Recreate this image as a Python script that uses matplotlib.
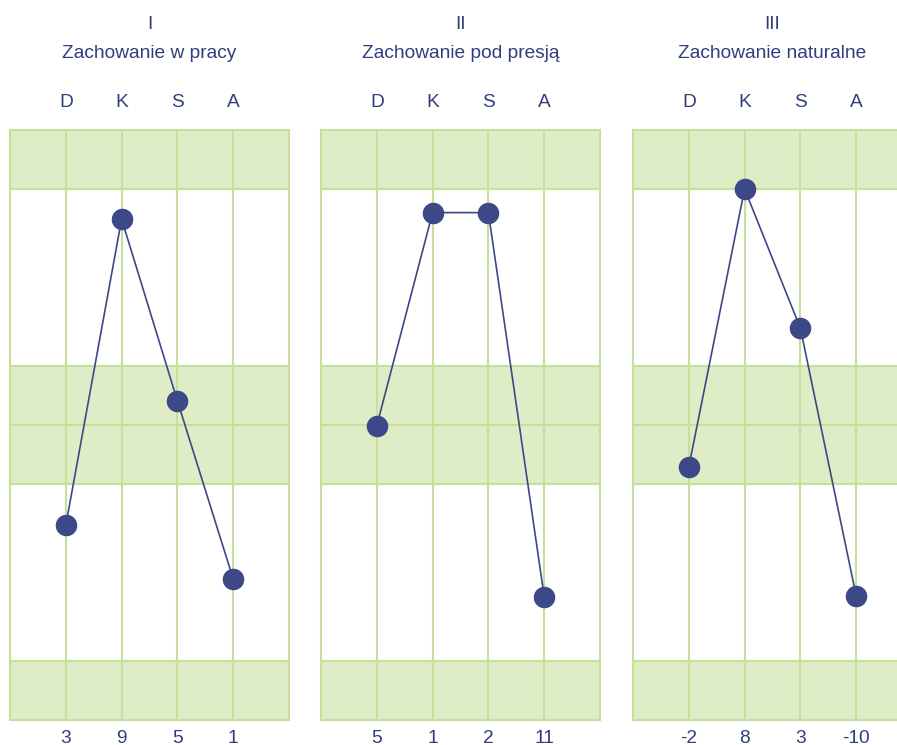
import matplotlib
matplotlib.use('Agg')
import matplotlib.pyplot as plt

plt.rcParams['font.family'] = ['Liberation Sans', 'DejaVu Sans']

# panel texts
romans = ['I', 'II', 'III']
titles = ['Zachowanie w pracy', 'Zachowanie pod presją', 'Zachowanie naturalne']
factors = ['D', 'K', 'S', 'A']

# scores shown under each column
scores_I = ['3', '9', '5', '1']
scores_II = ['5', '1', '2', '11']
scores_III = ['-2', '8', '3', '-10']

# plotted position of each point on a 0-100 graph scale
pos_I = [33.0, 84.9, 54.1, 23.9]
pos_II = [49.9, 86.0, 86.0, 20.9]
pos_III = [42.9, 90.0, 66.4, 21.0]

# shaded bands on the graph scale
bands = [(0, 10), (40, 60), (90, 100)]
hlines = [10, 40, 50, 60, 90]

navy = '#3c4888'
text_col = '#2f3f7e'
green_fill = '#deedc5'
green_line = '#c6e09c'

W, H = 897, 745
fig = plt.figure(figsize=(W / 100, H / 100), dpi=100)

lefts = [10, 321, 633]
pw, top, bottom = 279, 130, 720
fs = 13.8

panels = [(scores_I, pos_I), (scores_II, pos_II), (scores_III, pos_III)]
for i, (scores, pos) in enumerate(panels):
    ax = fig.add_axes([lefts[i] / W, (H - bottom) / H, pw / W, (bottom - top) / H])
    ax.set_xlim(0, 5)
    ax.set_ylim(0, 100)
    for lo, hi in bands:
        ax.axhspan(lo, hi, color=green_fill, lw=0, zorder=0)
    for y in hlines:
        ax.axhline(y, color=green_line, lw=1.5, zorder=1)
    xs = list(range(1, len(factors) + 1))
    for x in xs:
        ax.axvline(x, color=green_line, lw=1.5, zorder=1)
    for sp in ax.spines.values():
        sp.set_color(green_line)
        sp.set_linewidth(1.5)

    ax.plot(xs, pos, color=navy, lw=1.2, zorder=3)
    ax.plot(xs, pos, 'o', color=navy, ms=14.5, zorder=4)

    ax.set_yticks([])
    ax.set_xticks(xs)
    ax.set_xticklabels(scores)
    ax.tick_params(axis='x', length=0, pad=7, labelsize=fs, labelcolor=text_col)

    sec = ax.secondary_xaxis('top')
    sec.set_xticks(xs)
    sec.set_xticklabels(factors)
    sec.tick_params(length=0, pad=14, labelsize=fs, labelcolor=text_col)
    sec.spines['top'].set_visible(False)

    tr = ax.get_xaxis_transform()
    ax.text(2.5, 1.179, romans[i], transform=tr,
            ha='center', va='center', fontsize=fs, color=text_col)
    ax.text(2.5, 1.130, titles[i], transform=tr,
            ha='center', va='center', fontsize=fs, color=text_col)

fig.savefig('out.png', dpi=100)
